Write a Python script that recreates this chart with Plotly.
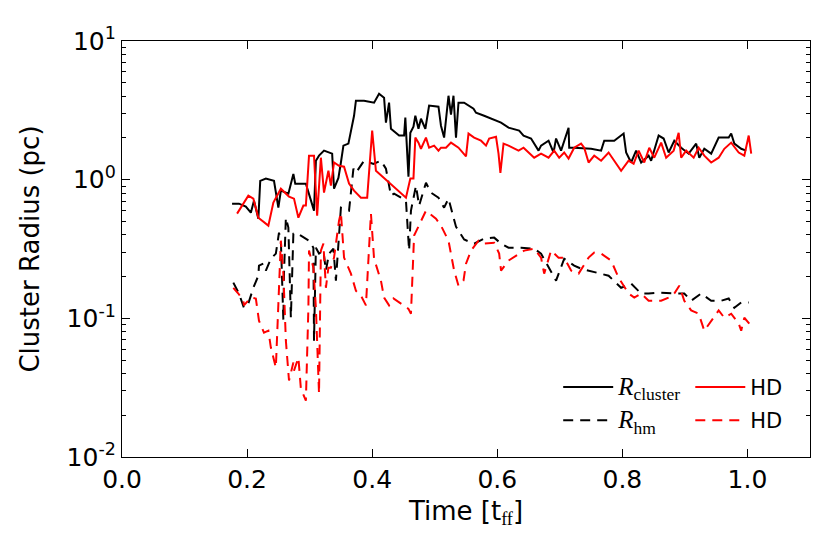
import plotly.graph_objects as go

# R_cluster, main run (black solid)
t_rc = [0.176, 0.187, 0.198, 0.206, 0.211, 0.218, 0.221, 0.230, 0.243, 0.250, 0.254, 0.266, 0.274, 0.277,
        0.294, 0.307, 0.310, 0.315, 0.323, 0.330, 0.336, 0.339, 0.346, 0.350, 0.354, 0.362, 0.371, 0.374,
        0.387, 0.403, 0.411, 0.419, 0.422, 0.427, 0.430, 0.443, 0.451, 0.453, 0.458, 0.461, 0.466, 0.469,
        0.474, 0.478, 0.485, 0.491, 0.506, 0.510, 0.515, 0.522, 0.526, 0.530, 0.534, 0.538, 0.547, 0.562,
        0.566, 0.579, 0.590, 0.606, 0.618, 0.635, 0.642, 0.654, 0.666, 0.670, 0.682, 0.690, 0.694, 0.702,
        0.714, 0.715, 0.723, 0.750, 0.766, 0.771, 0.787, 0.802, 0.806, 0.814, 0.822, 0.830, 0.842, 0.846,
        0.858, 0.866, 0.874, 0.883, 0.894, 0.906, 0.918, 0.923, 0.931, 0.942, 0.954, 0.970, 0.974, 0.979,
        0.990, 0.998]
r_rc = [0.671, 0.671, 0.639, 0.578, 0.706, 0.523, 0.98, 1.02, 0.98, 0.628, 0.833, 0.793, 1.10, 0.936,
        0.936, 0.598, 1.37, 1.49, 1.62, 1.57, 1.54, 0.861, 1.03, 1.33, 1.76, 1.82, 2.89, 3.71,
        3.71, 3.59, 4.17, 3.90, 2.58, 3.59, 2.33, 2.08, 2.08, 2.80, 1.05, 2.18, 2.41, 2.89,
        2.33, 2.75, 2.33, 3.42, 3.36, 2.45, 2.01, 4.03, 2.94, 4.03, 2.01, 3.59, 3.59, 3.25,
        3.04, 2.89, 2.75, 2.58, 2.37, 2.26, 2.08, 1.98, 1.62, 1.76, 1.91, 1.57, 1.98, 1.62,
        2.37, 1.70, 1.70, 1.67, 1.62, 1.91, 1.91, 2.15, 1.57, 1.33, 1.62, 1.33, 1.49, 1.37,
        2.08, 1.98, 1.57, 1.91, 1.70, 1.54, 1.82, 1.44, 1.67, 1.54, 2.01, 2.01, 2.15, 1.82,
        1.67, 1.62]

# R_cluster, HD run (red solid)
t_rc_hd = [0.184, 0.202, 0.210, 0.218, 0.234, 0.242, 0.254, 0.267, 0.275, 0.282, 0.290, 0.294, 0.299, 0.307,
           0.312, 0.318, 0.323, 0.330, 0.334, 0.339, 0.347, 0.355, 0.363, 0.371, 0.382, 0.392, 0.400, 0.406,
           0.454, 0.461, 0.466, 0.469, 0.474, 0.478, 0.486, 0.491, 0.499, 0.506, 0.510, 0.518, 0.526, 0.538,
           0.550, 0.554, 0.563, 0.574, 0.582, 0.587, 0.598, 0.602, 0.605, 0.610, 0.618, 0.626, 0.634, 0.642,
           0.650, 0.659, 0.670, 0.682, 0.691, 0.699, 0.707, 0.714, 0.723, 0.734, 0.739, 0.746, 0.755, 0.766,
           0.778, 0.787, 0.798, 0.810, 0.818, 0.826, 0.835, 0.843, 0.851, 0.862, 0.870, 0.882, 0.890, 0.894,
           0.902, 0.914, 0.922, 0.931, 0.942, 0.954, 0.963, 0.974, 0.986, 0.995, 1.002, 1.006]
r_rc_hd = [0.569, 0.767, 0.730, 0.532, 0.466, 0.683, 0.861, 0.755, 0.730, 0.532, 0.650, 0.650, 1.49, 1.49,
           0.55, 1.44, 0.806, 1.16, 0.905, 1.33, 1.26, 1.24, 0.936, 0.833, 0.742, 0.742, 2.26, 1.16,
           0.742, 1.02, 1.02, 2.01, 1.85, 1.67, 2.01, 1.70, 1.76, 1.62, 1.70, 1.70, 1.85, 1.70,
           1.47, 2.15, 2.01, 1.91, 1.76, 1.98, 2.04, 1.54, 1.12, 1.82, 1.76, 1.70, 1.62, 1.70,
           1.57, 1.44, 1.54, 1.44, 1.62, 1.44, 1.57, 1.42, 1.70, 1.82, 1.70, 1.33, 1.49, 1.37,
           1.57, 1.37, 1.16, 1.37, 1.30, 1.62, 1.33, 1.70, 1.44, 1.85, 1.44, 1.62, 2.18, 1.44,
           1.62, 1.44, 1.70, 1.49, 1.33, 1.44, 1.67, 1.85, 1.57, 1.49, 2.08, 1.54]

# half-mass radius, main run (black dashed)
t_hm = [0.178, 0.187, 0.195, 0.202, 0.210, 0.218, 0.219, 0.226, 0.230, 0.238, 0.246, 0.251, 0.254, 0.258,
        0.259, 0.262, 0.266, 0.270, 0.274, 0.278, 0.286, 0.299, 0.306, 0.307, 0.310, 0.315, 0.322, 0.326,
        0.331, 0.338, 0.342, 0.350, 0.363, 0.370, 0.374, 0.387, 0.402, 0.414, 0.422, 0.430, 0.435, 0.454,
        0.459, 0.462, 0.470, 0.475, 0.486, 0.494, 0.506, 0.515, 0.522, 0.534, 0.547, 0.563, 0.579, 0.595,
        0.606, 0.618, 0.638, 0.659, 0.670, 0.682, 0.694, 0.707, 0.723, 0.734, 0.746, 0.762, 0.778, 0.798,
        0.814, 0.830, 0.842, 0.858, 0.874, 0.883, 0.899, 0.910, 0.926, 0.942, 0.958, 0.970, 0.979, 0.990,
        1.002]
r_hm = [0.181, 0.151, 0.119, 0.128, 0.166, 0.203, 0.240, 0.248, 0.221, 0.269, 0.293, 0.415, 0.363, 0.0962,
        0.210, 0.532, 0.451, 0.101, 0.408, 0.415, 0.395, 0.363, 0.323, 0.069, 0.323, 0.293, 0.308, 0.221,
        0.293, 0.318, 0.187, 0.628, 0.598, 1.20, 1.12, 1.37, 1.30, 1.37, 1.20, 0.767, 0.793, 0.706,
        0.308, 0.598, 0.905, 0.65, 0.95, 0.806, 0.742, 0.628, 0.730, 0.458, 0.37, 0.346, 0.376, 0.382,
        0.346, 0.323, 0.323, 0.318, 0.293, 0.232, 0.187, 0.269, 0.240, 0.228, 0.221, 0.214, 0.203, 0.166,
        0.178, 0.151, 0.151, 0.153, 0.151, 0.151, 0.151, 0.134, 0.151, 0.134, 0.134, 0.139, 0.119, 0.130,
        0.130]

# half-mass radius, HD run (red dashed)
t_hm_hd = [0.178, 0.186, 0.194, 0.195, 0.206, 0.214, 0.219, 0.227, 0.234, 0.238, 0.246, 0.251, 0.254, 0.258,
           0.262, 0.267, 0.274, 0.275, 0.282, 0.286, 0.294, 0.298, 0.299, 0.306, 0.310, 0.315, 0.318, 0.322,
           0.326, 0.330, 0.334, 0.339, 0.347, 0.350, 0.355, 0.366, 0.374, 0.382, 0.390, 0.398, 0.403, 0.414,
           0.419, 0.427, 0.434, 0.450, 0.458, 0.462, 0.467, 0.486, 0.502, 0.510, 0.522, 0.531, 0.538, 0.546,
           0.550, 0.558, 0.570, 0.579, 0.595, 0.603, 0.606, 0.618, 0.626, 0.643, 0.659, 0.670, 0.675, 0.686,
           0.698, 0.707, 0.718, 0.730, 0.746, 0.755, 0.766, 0.782, 0.794, 0.810, 0.819, 0.830, 0.842, 0.851,
           0.862, 0.874, 0.883, 0.891, 0.899, 0.910, 0.922, 0.931, 0.942, 0.954, 0.963, 0.974, 0.986, 0.990,
           0.995, 1.003]
r_hm_hd = [0.166, 0.151, 0.134, 0.124, 0.141, 0.139, 0.0962, 0.0789, 0.0815, 0.0615, 0.0441, 0.141, 0.363, 0.210,
           0.069, 0.0356, 0.048, 0.042, 0.052, 0.0311, 0.0255, 0.119, 0.308, 0.232, 0.119, 0.0286, 0.308, 0.346,
           0.166, 0.232, 0.232, 0.274, 0.506, 0.578, 0.274, 0.210, 0.158, 0.146, 0.124, 0.569, 0.269, 0.187,
           0.141, 0.124, 0.139, 0.124, 0.117, 0.108, 0.395, 0.598, 0.523, 0.466, 0.363, 0.221, 0.172, 0.187,
           0.248, 0.308, 0.363, 0.346, 0.351, 0.293, 0.221, 0.261, 0.274, 0.308, 0.318, 0.274, 0.210, 0.308,
           0.274, 0.274, 0.221, 0.210, 0.274, 0.298, 0.293, 0.261, 0.196, 0.151, 0.141, 0.151, 0.134, 0.134,
           0.134, 0.141, 0.151, 0.172, 0.134, 0.114, 0.108, 0.0815, 0.0962, 0.114, 0.101, 0.108, 0.0916, 0.0815,
           0.101, 0.0916]

y_tickvals = [0.01, 0.1, 1, 10]
y_ticktext = ["10<sup>-2</sup>", "10<sup>-1</sup>", "10<sup>0</sup>", "10<sup>1</sup>"]

serif = "font-family:'Liberation Serif';font-size:25px"
dash = "10px,7px"

fig = go.Figure()
fig.add_trace(go.Scatter(x=t_rc, y=r_rc, mode="lines", line=dict(color="black", width=2),
                         name=f"<span style=\"{serif}\"><i>R</i><sub>cluster</sub></span>",
                         legend="legend", legendgroup="a"))
fig.add_trace(go.Scatter(x=t_hm, y=r_hm, mode="lines", line=dict(color="black", width=2, dash=dash),
                         name=f"<span style=\"{serif}\"><i>R</i><sub>hm</sub></span>",
                         legend="legend", legendgroup="b"))
fig.add_trace(go.Scatter(x=t_rc_hd, y=r_rc_hd, mode="lines", line=dict(color="red", width=2),
                         name="HD", legend="legend2", legendgroup="c"))
fig.add_trace(go.Scatter(x=t_hm_hd, y=r_hm_hd, mode="lines", line=dict(color="red", width=2, dash=dash),
                         name="HD", legend="legend2", legendgroup="d"))

axis_common = dict(showline=True, linecolor="black", linewidth=1.3, mirror="ticks",
                   ticks="inside", ticklen=8, tickwidth=1, tickcolor="black",
                   showgrid=False, zeroline=False,
                   tickfont=dict(family="DejaVu Sans", size=25, color="black"))

fig.update_xaxes(range=[0, 1.1], tickvals=[0, 0.2, 0.4, 0.6, 0.8, 1.0],
                 ticktext=["0.0", "0.2", "0.4", "0.6", "0.8", "1.0"],
                 title=dict(text="Time [t<sub><span style=\"font-family:'Liberation Serif'\">ff</span></sub>]",
                            font=dict(family="DejaVu Sans", size=26, color="black"), standoff=8),
                 **axis_common)
fig.update_yaxes(type="log", range=[-2, 1], tickvals=y_tickvals, ticktext=y_ticktext,
                 minor=dict(ticks="inside", ticklen=4, tickcolor="black", tickwidth=1, dtick="D1"),
                 title=dict(text="Cluster Radius (pc)",
                            font=dict(family="DejaVu Sans", size=26, color="black"), standoff=19),
                 **axis_common)

legend_common = dict(bgcolor="rgba(0,0,0,0)", borderwidth=0, yanchor="top", xanchor="left",
                     font=dict(family="DejaVu Sans", size=21, color="black"),
                     tracegroupgap=3, itemwidth=50)
fig.update_layout(
    width=830, height=554,
    margin=dict(l=114, r=28, t=33, b=105),
    paper_bgcolor="white", plot_bgcolor="white",
    legend=dict(x=0.634, y=0.217, **legend_common),
    legend2=dict(x=0.826, y=0.217, **legend_common),
)

fig.write_html("out.html")
